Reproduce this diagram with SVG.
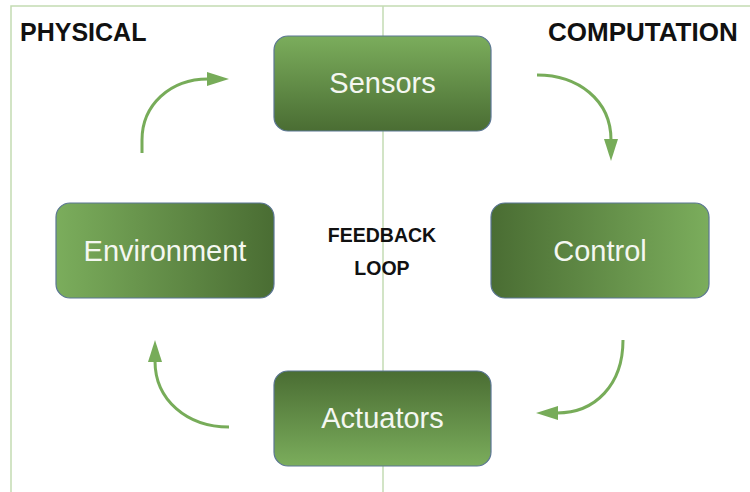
<svg xmlns="http://www.w3.org/2000/svg" width="750" height="492" viewBox="0 0 750 492">
  <style>
    .frame { stroke: #c3dbb3; stroke-width: 1.5; fill: none; }
    .box { stroke: #5b7694; stroke-width: 1.2; }
    .label { font-family: "Liberation Sans", Arial, sans-serif; font-size: 29px; fill: #f4f7f1; text-anchor: middle; }
    .head { font-family: "Liberation Sans", Arial, sans-serif; font-size: 25px; font-weight: bold; fill: #111; }
    .mid { font-family: "Liberation Sans", Arial, sans-serif; font-size: 19.5px; font-weight: bold; fill: #111; text-anchor: middle; }
    .flow { stroke: #77ac59; stroke-width: 3; fill: none; marker-end: url(#tip); }
  </style>
  <defs>
    <linearGradient id="gDown" x1="0" y1="0" x2="0" y2="1">
      <stop offset="0" stop-color="#7bad5c"/>
      <stop offset="1" stop-color="#4a6d33"/>
    </linearGradient>
    <linearGradient id="gUp" x1="0" y1="1" x2="0" y2="0">
      <stop offset="0" stop-color="#7bad5c"/>
      <stop offset="1" stop-color="#4a6d33"/>
    </linearGradient>
    <linearGradient id="gRight" x1="0" y1="0" x2="1" y2="0">
      <stop offset="0" stop-color="#7bad5c"/>
      <stop offset="1" stop-color="#4a6d33"/>
    </linearGradient>
    <linearGradient id="gLeft" x1="1" y1="0" x2="0" y2="0">
      <stop offset="0" stop-color="#7bad5c"/>
      <stop offset="1" stop-color="#4a6d33"/>
    </linearGradient>
    <marker id="tip" markerUnits="userSpaceOnUse" markerWidth="24" markerHeight="16" refX="1" refY="7" orient="auto">
      <path d="M0,0 L22,7 L0,14 z" fill="#77ac59"/>
    </marker>
  </defs>

  <!-- frame and divider -->
  <g id="frame">
    <path class="frame" d="M11,492 V6 H750"/>
    <line class="frame" x1="383" y1="6" x2="383" y2="492"/>
  </g>

  <text class="head" x="20" y="41">PHYSICAL</text>
  <text class="head" x="548" y="41" style="font-size:26px">COMPUTATION</text>

  <g id="feedback-loop">
    <text class="mid" x="382" y="242">FEEDBACK</text>
    <text class="mid" x="382" y="275">LOOP</text>
  </g>

  <!-- connectors -->
  <g id="connectors">
    <path class="flow" d="M142,153 V140 C142,105 170,79 208,79"/>
    <path class="flow" d="M537,75 C578,75 611,100 611,140"/>
    <path class="flow" d="M623,340 C623,385 595,413 557,413"/>
    <path class="flow" d="M229,427 C187,427 155,400 155,361"/>
  </g>

  <!-- nodes -->
  <g id="sensors">
    <rect class="box" x="274" y="36" width="217" height="95" rx="14" fill="url(#gDown)"/>
    <text class="label" x="382.5" y="93">Sensors</text>
  </g>
  <g id="control">
    <rect class="box" x="491" y="203" width="218" height="95" rx="14" fill="url(#gLeft)"/>
    <text class="label" x="600" y="261">Control</text>
  </g>
  <g id="actuators">
    <rect class="box" x="274" y="371" width="217" height="95" rx="14" fill="url(#gUp)"/>
    <text class="label" x="382.5" y="428">Actuators</text>
  </g>
  <g id="environment">
    <rect class="box" x="56" y="203" width="218" height="95" rx="14" fill="url(#gRight)"/>
    <text class="label" x="165" y="261">Environment</text>
  </g>
</svg>
